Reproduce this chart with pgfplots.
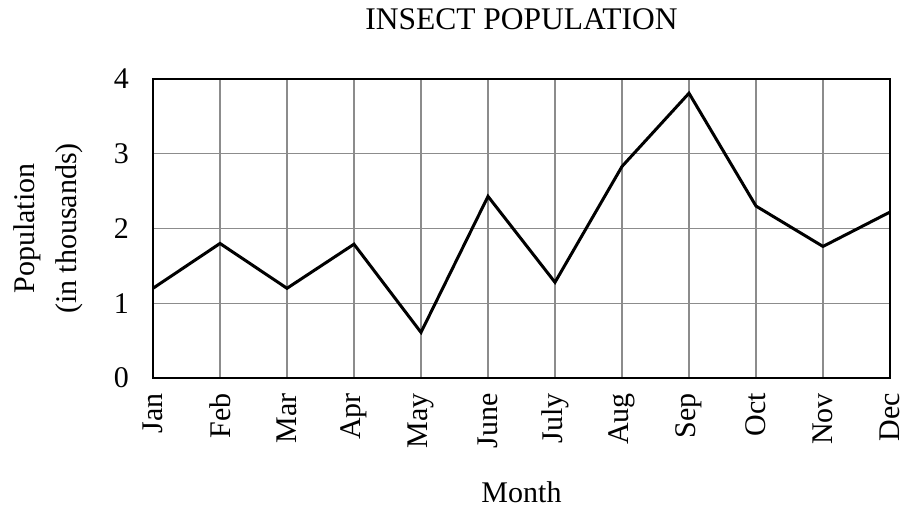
\documentclass[border=0pt]{standalone}
\usepackage{fontspec}
\setmainfont{Liberation Serif}
\usepackage{pgfplots}
\pgfplotsset{compat=1.18}
\begin{document}
\fontsize{30}{36}\selectfont
\begin{tikzpicture}
\useasboundingbox (-153pt,-132pt) rectangle (753pt,378pt);
\begin{axis}[
  at={(0,0)}, anchor=south west,
  scale only axis, width=737pt, height=299pt,
  xmin=0, xmax=11, ymin=0, ymax=4,
  xtick={0,...,11},
  xticklabels={Jan,Feb,Mar,Apr,May,June,July,Aug,Sep,Oct,Nov,Dec},
  ytick={0,1,2,3,4},
  /pgf/number format/assume math mode=true,
  major tick length=0pt,
  grid=major,
  major grid style={line width=1.3pt, color=black!45},
  axis line style={line width=2pt},
  tick label style={font=\fontsize{30}{36}\selectfont, inner sep=0pt},
  xticklabel style={rotate=90, anchor=east},
  xticklabel shift=15pt,
  yticklabel shift=24pt,
  label style={font=\fontsize{30}{42}\selectfont},
  xlabel={Month},
  xlabel style={at={([yshift=-125pt]axis description cs:0.5,0)}, anchor=base, inner sep=0pt},
  ylabel={Population\\(in thousands)},
  ylabel style={at={([xshift=-70pt]axis description cs:0,0.5)}, anchor=south, align=center, inner sep=0pt},
  title={INSECT POPULATION},
  title style={at={([yshift=43pt]axis description cs:0.5,1)}, anchor=base, inner sep=0pt, font=\fontsize{31.5}{36}\selectfont},
]
\addplot[black, line width=3pt, line join=miter] coordinates {
  (0,1.20) (1,1.80) (2,1.20) (3,1.79) (4,0.61) (5,2.43)
  (6,1.28) (7,2.83) (8,3.81) (9,2.30) (10,1.76) (11,2.22)
};
\end{axis}
\end{tikzpicture}
\end{document}
